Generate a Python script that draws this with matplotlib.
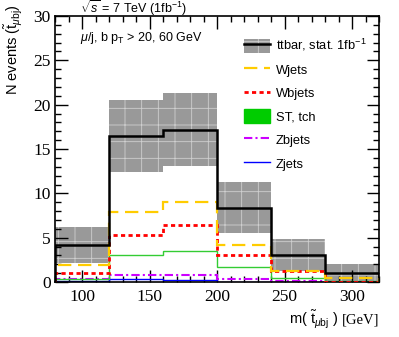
import matplotlib
matplotlib.use("Agg")
import matplotlib.pyplot as plt
import numpy as np
from matplotlib.patches import Patch
from matplotlib.lines import Line2D
from matplotlib.ticker import MultipleLocator

plt.rcParams['mathtext.fontset'] = 'custom'
plt.rcParams['mathtext.rm'] = 'Liberation Sans'
plt.rcParams['mathtext.it'] = 'Liberation Sans:italic'
plt.rcParams['mathtext.bf'] = 'Liberation Sans:bold'
plt.rcParams['hatch.linewidth'] = 0.6

bin_edges = [80, 120, 160, 200, 240, 280, 320]
ttbar = [4.2, 16.5, 17.2, 8.4, 3.05, 1.0]
ttbar_err = [2.05, 4.05, 4.15, 2.9, 1.75, 1.0]
wjets = [1.9, 7.9, 9.0, 4.2, 1.3, 0.5]
wbjets = [1.0, 5.3, 6.4, 3.05, 1.25, 0.02]
st_tch = [0.3, 3.0, 3.55, 1.7, 0.5, 0.1]
zbjets = [0.35, 0.8, 0.82, 0.35, 0.07, 0.03]
zjets = [0.12, 0.3, 0.2, 0.05, 0.03, 0.01]

labels = ["ttbar, stat. 1fb$^{-1}$", "Wjets", "Wbjets", "ST, tch", "Zbjets", "Zjets"]

fig = plt.figure(figsize=(3.99, 3.37), dpi=100)
ax = fig.add_axes([0.138, 0.163, 0.812, 0.7895])

edges = np.array(bin_edges)
tt = np.array(ttbar)
te = np.array(ttbar_err)
band_color = '#999999'
ax.bar(edges[:-1], 2 * te, width=np.diff(edges), bottom=tt - te, align='edge',
       color=band_color, edgecolor='#cfcfcf', hatch='+', linewidth=0, zorder=1)

ax.stairs(zjets, edges, color='#0000ff', lw=1.0, zorder=2)
ax.stairs(zbjets, edges, color='#cc00ff', lw=1.5, linestyle=(0, (4, 1.5, 1, 1.5)), zorder=2)
ax.stairs(st_tch, edges, color='#33cc33', lw=1.0, zorder=2)
ax.stairs(wbjets, edges, color='#ff0000', lw=2.0, linestyle=(0, (1.5, 1.2)), zorder=3)
ax.stairs(wjets, edges, color='#ffcc00', lw=1.6, linestyle=(0, (6, 3)), zorder=3)
ax.stairs(ttbar, edges, color='black', lw=1.8, zorder=4)

ax.set_xlim(80, 320)
ax.set_ylim(0, 30)
ax.xaxis.set_major_locator(MultipleLocator(50))
ax.xaxis.set_minor_locator(MultipleLocator(10))
ax.yaxis.set_major_locator(MultipleLocator(5))
ax.yaxis.set_minor_locator(MultipleLocator(1))
ax.tick_params(which='both', direction='in', top=True, right=True, width=1.0)
ax.tick_params(which='major', length=9)
ax.tick_params(which='minor', length=4.5)
ax.tick_params(axis='x', pad=5)
ax.tick_params(axis='y', pad=3)
for lab in ax.get_xticklabels() + ax.get_yticklabels():
    lab.set_fontfamily('Liberation Serif')
    lab.set_fontsize(12.5)
for s in ax.spines.values():
    s.set_linewidth(1.2)

handles = [
    (Patch(facecolor=band_color, edgecolor='#cfcfcf', hatch='+', linewidth=0),
     Line2D([], [], color='black', lw=1.8)),
    Line2D([], [], color='#ffcc00', lw=1.6, linestyle=(0, (6, 3))),
    Line2D([], [], color='#ff0000', lw=2.0, linestyle=(0, (1.5, 1.2))),
    Patch(facecolor='#00cc00', edgecolor='#00cc00'),
    Line2D([], [], color='#cc00ff', lw=1.5, linestyle=(0, (4, 1.5, 1, 1.5))),
    Line2D([], [], color='#0000ff', lw=1.0),
]
leg = ax.legend(handles, labels, loc='upper left', bbox_to_anchor=(0.583, 0.92),
                frameon=False, borderpad=0, borderaxespad=0, handlelength=2.0,
                handleheight=1.3, handletextpad=0.45, labelspacing=0.7,
                prop={'family': 'Liberation Sans', 'size': 9.3})

fig.text(0.2, 0.975, r"$\sqrt{s}$ = 7 TeV (1fb$^{-1}$)", fontsize=9,
         family='Liberation Sans', ha='left', va='center')
ax.text(0.077, 0.918, r"$\mu$/j, b p$_{\rm T}$ > 20, 60 GeV", transform=ax.transAxes,
        fontsize=9, family='Liberation Sans', ha='left', va='center')
fig.text(0.035, 0.988, r"N events ($\tilde{\rm t}_{\mu{\rm bj}}$)", rotation=90,
         fontsize=10.5, family='Liberation Sans', ha='center', va='top')

# x label: sans part + serif unit part
renderer = fig.canvas.get_renderer()
t_unit = fig.text(0.95, 0.05, "[GeV]", fontsize=10.5, family='Liberation Serif',
                  ha='right', va='center')
bb = t_unit.get_window_extent(renderer)
x_left = bb.x0 / fig.bbox.width - 0.008
fig.text(x_left, 0.05, r"m( $\tilde{\rm t}_{\mu{\rm bj}}$ )", fontsize=10.5,
         family='Liberation Sans', ha='right', va='center')

fig.savefig('out.png', dpi=100)
